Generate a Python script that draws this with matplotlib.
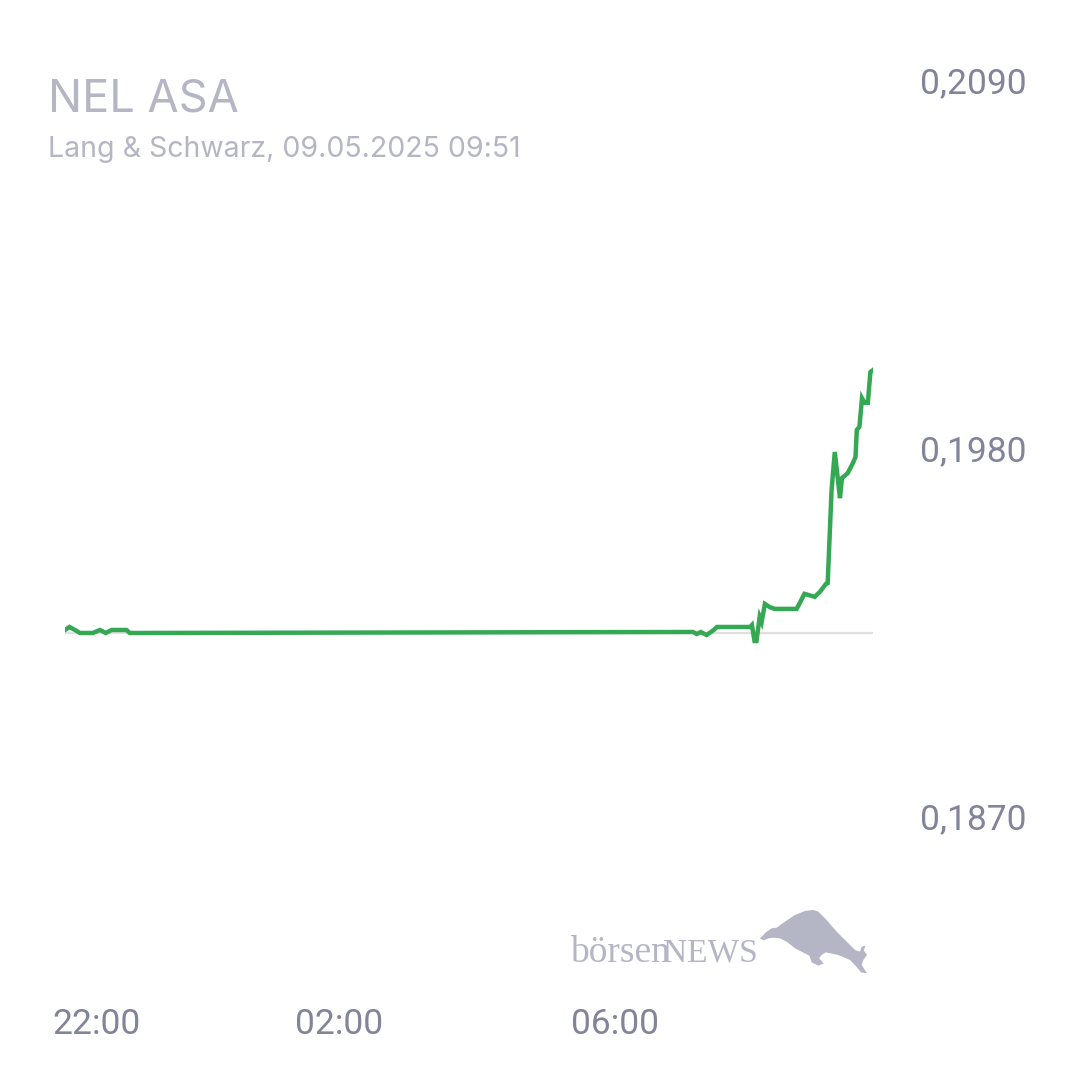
import matplotlib
matplotlib.use('Agg')
import matplotlib.pyplot as plt
from matplotlib.patches import Polygon
from matplotlib.ticker import FuncFormatter

# Chart data (hours relative to 22:00 on 08.05.2025)
hours = [-0.49, -0.42, -0.31, -0.26, -0.06, 0.05, 0.14, 0.23, 0.46, 0.51,
         9.21, 9.27, 9.33, 9.42, 9.53, 9.58, 10.09, 10.12, 10.16, 10.19,
         10.24, 10.27, 10.32, 10.39, 10.47, 10.81, 10.86, 10.93, 11.04, 11.09,
         11.17, 11.26, 11.29, 11.35, 11.40, 11.48, 11.51, 11.60, 11.68, 11.72,
         11.74, 11.78, 11.82, 11.86, 11.91, 11.95, 11.99]
prices = [0.19268, 0.19277, 0.19265, 0.19259, 0.19259, 0.19268, 0.19259, 0.19268, 0.19268, 0.19259,
          0.19262, 0.19256, 0.19262, 0.19253, 0.19268, 0.19277, 0.19277, 0.19283, 0.19235, 0.19235,
          0.19307, 0.19292, 0.19346, 0.19337, 0.19331, 0.19331, 0.19349, 0.19376, 0.19370, 0.19367,
          0.19382, 0.19405, 0.19408, 0.19686, 0.19800, 0.19662, 0.19722, 0.19737, 0.19767, 0.19785,
          0.19866, 0.19875, 0.19961, 0.19947, 0.19947, 0.20039, 0.20045]
prev_close = 0.19259

y_ticks = [0.1870, 0.1980, 0.2090]
x_tick_pos = [0.0, 3.74, 8.0]
x_tick_labels = ['22:00', '02:00', '06:00']

TITLE = 'NEL ASA'
SUBTITLE = 'Lang & Schwarz, 09.05.2025 09:51'

GREEN = '#34a853'
TICK_COLOR = '#81849a'
TITLE_COLOR = '#b5b6c4'
LOGO_COLOR = '#b4b5c5'

W = H = 1080
fig = plt.figure(figsize=(10.8, 10.8), dpi=100)
fig.patch.set_facecolor('white')

# axes area in pixels (left, top, right, bottom)
L, T, R, B = 65, 84, 873, 820
ax = fig.add_axes([L / W, 1 - B / H, (R - L) / W, (B - T) / H])
ax.set_facecolor('none')

ax.axhline(prev_close, color='#e0e0e0', lw=1.6, zorder=1)
ax.plot(hours, prices, color=GREEN, lw=3.2, solid_joinstyle='miter', zorder=2)

ax.set_xlim(hours[0], hours[-1])
ax.set_ylim(y_ticks[0], y_ticks[-1])

for s in ax.spines.values():
    s.set_visible(False)

ax.yaxis.tick_right()
ax.set_yticks(y_ticks)
ax.yaxis.set_major_formatter(FuncFormatter(lambda v, p: f'{v:.4f}'.replace('.', ',')))
ax.tick_params(axis='y', length=0, pad=34, labelsize=25.5, labelcolor=TICK_COLOR)
ax.set_xticks(x_tick_pos)
ax.set_xticklabels(x_tick_labels)
ax.tick_params(axis='x', length=0, pad=135, labelsize=25.5, labelcolor=TICK_COLOR)
for lab in ax.get_xticklabels() + ax.get_yticklabels():
    lab.set_fontfamily('Roboto')
for lab in ax.get_yticklabels():
    lab.set_verticalalignment('center')

# title block
fig.text(48 / W, 1 - 112 / H, TITLE, fontsize=32.5, color=TITLE_COLOR,
         family='Inter', va='baseline', ha='left')
fig.text(48 / W, 1 - 157 / H, SUBTITLE, fontsize=20.5, color=TITLE_COLOR,
         family='Inter', va='baseline', ha='left')

# börsenNEWS logo
fig.text(570 / W, 1 - 962 / H, 'börsen', fontsize=27, color=LOGO_COLOR,
         family='Liberation Serif', va='baseline', ha='left')
fig.text(663 / W, 1 - 962 / H, 'NEWS', fontsize=24, color=LOGO_COLOR,
         family='Liberation Serif', va='baseline', ha='left')

bull = [(15, 100), (35, 80), (50, 70), (65, 68), (90, 50), (120, 30), (150, 18),
        (175, 15), (190, 20), (215, 45), (245, 80), (275, 110), (300, 135),
        (315, 140), (320, 125), (332, 122), (326, 136), (336, 150), (325, 165),
        (320, 180), (336, 205), (318, 202), (305, 186), (285, 165), (250, 150),
        (212, 142), (200, 150), (192, 160), (206, 175), (190, 182), (170, 172),
        (163, 152), (140, 140), (120, 130), (95, 110), (75, 100), (55, 98),
        (40, 100), (25, 106)]
bull_fig = [((755 + zx / 3) / W, 1 - (905 + zy / 3) / H) for zx, zy in bull]
fig.patches.append(Polygon(bull_fig, closed=True, transform=fig.transFigure,
                           facecolor=LOGO_COLOR, edgecolor='none'))

fig.savefig('out.png', dpi=100, facecolor='white')
